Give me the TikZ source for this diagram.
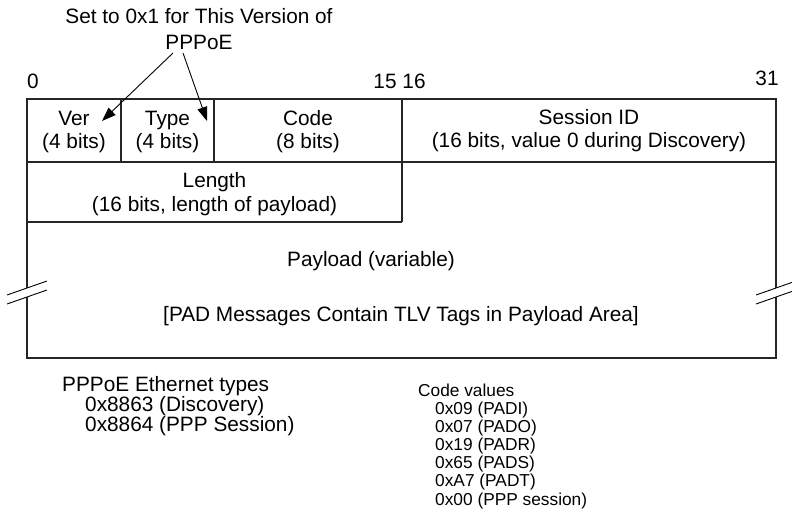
\documentclass[tikz,border=0pt]{standalone}
\usepackage{fontspec}
\setmainfont{Liberation Sans}
\usetikzlibrary{arrows.meta}
\begin{document}
\begin{tikzpicture}[x=1pt,y=-1pt,
  frame/.style={line width=1.3pt, draw=black!85},
  big/.style={font=\fontsize{20.8}{25}\selectfont, inner sep=0pt, anchor=base},
  bigl/.style={font=\fontsize{20.8}{25}\selectfont, inner sep=0pt, anchor=base west},
  small/.style={font=\fontsize{17.3}{18}\selectfont, inner sep=0pt, anchor=base west},
  ptr/.style={line width=0.9pt, -{Triangle[length=14pt,width=10pt]}},
  brk/.style={line width=0.9pt, draw=black}]
\useasboundingbox (0,0) rectangle (792,523);

% frame of the header
\draw[frame] (27,99) rectangle (776,358);
\draw[frame] (27,162) -- (776,162);
\draw[frame] (121,99) -- (121,162);
\draw[frame] (214,99) -- (214,162);
\draw[frame] (402,99) -- (402,222);
\draw[frame] (27,222) -- (402,222);

% break marks
\fill[white] (7,295) -- (47,281) -- (47,290) -- (7,304) -- cycle;
\draw[brk] (7,295) -- (47,281);
\draw[brk] (7,304) -- (47,290);
\fill[white] (756,295) -- (796,281) -- (796,290) -- (756,304) -- cycle;
\draw[brk] (756,295) -- (796,281);
\draw[brk] (756,304) -- (796,290);

% bit numbers
\node[big] (b0) at (33,88) {0};
\node[big] (b15) at (385,88) {15};
\node[big] (b16) at (414,88) {16};
\node[big] (b31) at (767,85) {31};

% title and arrows
\node[big] (title1) at (199,23.5) {Set to 0x1 for This Version of};
\node[big] (title2) at (199,49) {PPPoE};
\coordinate (a1) at (173,53);
\coordinate (a2) at (183,53);
\coordinate (verTip) at (102,121);
\coordinate (typeTip) at (207,121);
\draw[ptr] (a1) -- (verTip);
\draw[ptr] (a2) -- (typeTip);

% field labels
\node[big] (ver1) at (74,125) {Ver};
\node[big] (ver2) at (74,148) {(4 bits)};
\node[big] (type1) at (167.5,125) {Type};
\node[big] (type2) at (167.5,148) {(4 bits)};
\node[big] (code1) at (308,125) {Code};
\node[big] (code2) at (308,148) {(8 bits)};
\node[big] (sid1) at (589,124) {Session ID};
\node[big] (sid2) at (589,147) {(16 bits, value 0 during Discovery)};
\node[big] (len1) at (214.5,187) {Length};
\node[big] (len2) at (214.5,211) {(16 bits, length of payload)};
\node[big] (pay1) at (371,266) {Payload (variable)};
\node[big] (pay2) at (401,321) {[PAD Messages Contain TLV Tags in Payload Area]};

% ethernet types
\node[bigl] (et0) at (62,391.5) {PPPoE Ethernet types};
\node[bigl] (et1) at (85,411.5) {0x8863 (Discovery)};
\node[bigl] (et2) at (85,431.5) {0x8864 (PPP Session)};

% code values
\node[small] (cv0) at (418,396) {Code values};
\node[small] (cv1) at (435,414) {0x09 (PADI)};
\node[small] (cv2) at (435,432.2) {0x07 (PADO)};
\node[small] (cv3) at (435,450.4) {0x19 (PADR)};
\node[small] (cv4) at (435,468.6) {0x65 (PADS)};
\node[small] (cv5) at (435,486.8) {0xA7 (PADT)};
\node[small] (cv6) at (435,505) {0x00 (PPP session)};
\end{tikzpicture}
\end{document}
